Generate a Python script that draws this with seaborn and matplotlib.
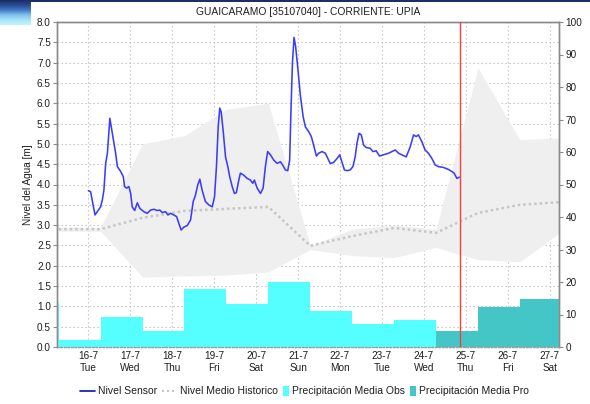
import numpy as np
import pandas as pd
import matplotlib
matplotlib.use("Agg")
import matplotlib.pyplot as plt
import seaborn as sns
from matplotlib.lines import Line2D
from matplotlib.patches import Rectangle
from matplotlib.offsetbox import AnchoredOffsetbox, HPacker, DrawingArea, TextArea

# ---------------------------------------------------------------- data
title = "GUAICARAMO [35107040] - CORRIENTE: UPIA"
t0 = pd.Timestamp("2024-07-16 00:00")

# water level from the sensor (hours after 16-7 00:00, metres)
sensor_hours = [0.0, 1.3, 3.8, 7.0, 8.0, 8.9, 9.9, 10.9, 11.8, 12.3, 13.1, 14.3, 15.6, 16.6,
                18.5, 20.0, 20.7, 21.9, 23.2, 24.2, 25.1, 26.5, 28.0, 29.5, 31.8, 33.7,
                35.6, 37.5, 39.4, 40.9, 42.3, 44.2, 45.5, 47.0, 48.9, 50.5, 51.8, 53.1,
                54.6, 56.6, 58.5, 60.0, 61.3, 62.6, 63.8, 65.1, 67.0, 68.9, 70.9, 72.2,
                73.3, 74.3, 75.2, 76.0, 77.1, 78.5, 79.8, 80.9, 82.3, 83.6, 84.7, 86.1,
                87.0, 88.9, 90.9, 92.7, 94.1, 95.0, 96.6, 98.5, 100.0, 101.3, 102.6,
                104.2, 106.1, 108.0, 109.9, 111.2, 112.7, 114.1, 115.2, 116.0, 116.8,
                117.7, 118.6, 119.9, 121.3, 122.9, 124.2, 126.1, 127.6, 128.9, 130.5,
                131.8, 133.7, 135.6, 138.4, 140.3, 142.3, 143.8, 145.1, 146.5, 148.0,
                149.9, 151.4, 152.7, 153.7, 154.9, 156.2, 157.5, 159.0, 161.3, 162.9,
                164.7, 166.6, 168.9, 171.8, 173.7, 175.6, 177.5, 179.4, 181.9, 184.2,
                186.1, 187.6, 188.9, 190.9, 192.7, 194.6, 196.6, 198.5, 200.3, 203.2,
                206.1, 208.0, 209.3, 210.9, 212.3]
sensor_level = [3.85, 3.82, 3.25, 3.45, 3.62, 3.86, 4.52, 4.77, 5.34, 5.63, 5.42, 5.10, 4.77, 4.44,
                4.32, 4.19, 3.95, 3.91, 3.95, 3.78, 3.45, 3.36, 3.55, 3.41, 3.33, 3.29,
                3.37, 3.39, 3.36, 3.37, 3.31, 3.33, 3.25, 3.29, 3.25, 3.21, 3.04, 2.88,
                2.95, 2.99, 3.13, 3.58, 3.74, 3.99, 4.13, 3.86, 3.58, 3.50, 3.45, 3.70,
                4.44, 5.42, 5.88, 5.79, 5.34, 4.68, 4.44, 4.19, 3.95, 3.78, 3.80, 4.11,
                4.28, 4.23, 4.15, 4.11, 4.03, 4.11, 3.91, 3.78, 3.91, 4.44, 4.81,
                4.73, 4.60, 4.52, 4.56, 4.48, 4.36, 4.34, 4.60, 5.90, 7.00,
                7.62, 7.40, 6.85, 6.20, 5.67, 5.42, 5.30, 5.18, 4.97, 4.70,
                4.77, 4.81, 4.77, 4.52, 4.54, 4.64, 4.73, 4.56, 4.36, 4.34,
                4.36, 4.44, 4.68, 5.01, 5.26, 5.22, 4.97, 4.91, 4.89, 4.81,
                4.83, 4.70, 4.73, 4.77, 4.81, 4.85, 4.77, 4.73, 4.68, 4.93,
                5.22, 5.18, 5.22, 5.05, 4.85, 4.77, 4.64, 4.48, 4.44, 4.42,
                4.37, 4.32, 4.28, 4.15, 4.18]

# historical statistics at the daily 07:00 reading (metres)
hist_time = ["2024-07-15 07:00", "2024-07-16 07:00", "2024-07-17 07:00", "2024-07-18 07:00",
             "2024-07-19 07:00", "2024-07-20 07:00", "2024-07-21 07:00", "2024-07-22 07:00",
             "2024-07-23 07:00", "2024-07-24 07:00", "2024-07-25 07:00", "2024-07-26 07:00",
             "2024-07-27 07:00"]
hist_mean = [2.90, 2.90, 3.18, 3.35, 3.40, 3.45, 2.49, 2.73, 2.93, 2.81, 3.30, 3.50, 3.57]
hist_max = [2.95, 2.95, 5.00, 5.20, 5.85, 6.00, 2.50, 2.90, 3.00, 2.90, 6.87, 5.10, 5.15]
hist_min = [2.85, 2.85, 1.72, 1.75, 1.77, 1.85, 2.40, 2.25, 2.20, 2.45, 2.15, 2.10, 2.85]

# daily precipitation, 07:00 to 07:00 (mm)
obs_start = ["2024-07-14 07:00", "2024-07-15 07:00", "2024-07-16 07:00", "2024-07-17 07:00",
             "2024-07-18 07:00", "2024-07-19 07:00", "2024-07-20 07:00", "2024-07-21 07:00",
             "2024-07-22 07:00", "2024-07-23 07:00"]
precip_obs = [13.8, 2.2, 9.3, 5.0, 18.0, 13.2, 20.0, 11.1, 7.2, 8.3]
pro_start = ["2024-07-24 07:00", "2024-07-25 07:00", "2024-07-26 07:00"]
precip_pro = [4.9, 12.3, 14.8]

now_time = "2024-07-24 20:40"
view_range = ("2024-07-15 06:10", "2024-07-27 05:20")

day_labels = ["16-7", "17-7", "18-7", "19-7", "20-7", "21-7", "22-7", "23-7", "24-7",
              "25-7", "26-7", "27-7"]
weekday_labels = ["Tue", "Wed", "Thu", "Fri", "Sat", "Sun", "Mon", "Tue", "Wed", "Thu",
                  "Fri", "Sat"]

legend_labels = ["Nivel Sensor", "Nivel Medio Historico",
                 "Precipitación Media Obs", "Precipitación Media Pro"]

# ---------------------------------------------------------------- styling
C_SENSOR = "#3c3cff"
C_SENSOR_KEY = "#0a0acc"
C_MEAN = "#c6c6c6"
C_BAND = "#efefef"
C_OBS = "#55ffff"
C_PRO = "#45c6c6"
C_RED = "#ff3b3b"
C_SPINE = "#8a8a8a"
C_TEXT = "#1e1e1e"
FS = 7.2


def to_days(stamps):
    return np.asarray((pd.to_datetime(stamps) - t0) / pd.Timedelta(days=1), dtype=float)


sns.set_theme(style="white")
plt.rcParams["font.family"] = ["Liberation Sans", "DejaVu Sans"]

W, H = 590, 404
fig = plt.figure(figsize=(W / 100, H / 100), dpi=100)
ax = fig.add_axes([57.2 / W, 1 - 347 / H, (559 - 57.2) / W, (347 - 22) / H])
ax2 = ax.twinx()

# historical band and mean
hx = to_days(hist_time)
ax.fill_between(hx, hist_min, hist_max, color=C_BAND, lw=0, zorder=1)
sns.lineplot(x=hx, y=hist_mean, ax=ax, color=C_MEAN, lw=1.8,
             linestyle=(0, (1.0, 1.2)), estimator=None, sort=False, zorder=2)

# sensor level
sx = np.asarray(sensor_hours) / 24.0
sns.lineplot(x=sx, y=sensor_level, ax=ax, color=C_SENSOR, lw=1.15,
             estimator=None, sort=False, zorder=3)

# precipitation bars on the secondary axis (one-day bins, 07:00 to 07:00)
obs_df = pd.DataFrame({"day": to_days(obs_start) + 0.5, "mm": precip_obs})
pro_df = pd.DataFrame({"day": to_days(pro_start) + 0.5, "mm": precip_pro})
for df, col in ((obs_df, C_OBS), (pro_df, C_PRO)):
    lo = float(df["day"].min()) - 0.5
    hi = float(df["day"].max()) + 0.5
    sns.histplot(data=df, x="day", weights="mm", binwidth=1.0, binrange=(lo, hi),
                 ax=ax2, color=col, alpha=1, linewidth=0, edgecolor="none",
                 stat="count")
ax2.axvline(to_days([now_time])[0], color=C_RED, lw=1.0, zorder=5)

# axes
x0, x1 = to_days(list(view_range))
ax.set_xlim(x0, x1)
ax2.set_xlim(x0, x1)
ax.set_ylim(0, 8)
ax2.set_ylim(0, 100)

ax.set_yticks(np.arange(0, 8.01, 0.5))
ax.set_yticklabels([f"{v:.1f}" for v in np.arange(0, 8.01, 0.5)])
ax2.set_yticks(np.arange(0, 101, 10))
ax.set_xticks(np.arange(len(day_labels)))
ax.set_xticklabels([f"{d}\n{w}" for d, w in zip(day_labels, weekday_labels)],
                   linespacing=1.25)

ax.grid(True, axis="both", color="#bdbdbd", lw=0.8, linestyle=(0, (1.2, 2.4)))
ax2.grid(False)

ax.tick_params(axis="y", direction="out", length=3, width=0.8, color=C_SPINE,
               labelsize=FS, labelcolor=C_TEXT, pad=1.5, left=True)
ax.tick_params(axis="x", length=0, labelsize=FS, labelcolor=C_TEXT, pad=3)
ax2.tick_params(axis="y", direction="out", length=3, width=0.8, color=C_SPINE,
                labelsize=FS, labelcolor=C_TEXT, pad=1.5, right=True)

for a in (ax, ax2):
    for side in ("left", "right", "top"):
        a.spines[side].set_visible(True)
        a.spines[side].set_color(C_SPINE)
        a.spines[side].set_linewidth(1.0)
    a.spines["bottom"].set_visible(True)
    a.spines["bottom"].set_color("#9a9a9a")
    a.spines["bottom"].set_linewidth(0.9)
    a.spines["bottom"].set_linestyle((0, (1.2, 1.6)))

ax.set_xlabel("")
ax2.set_xlabel("")
ax2.set_ylabel("")
ax.set_ylabel("Nivel del Agua [m]", fontsize=FS, color=C_TEXT, labelpad=3)
ax.set_title(title, fontsize=7.4, color=C_TEXT, pad=5)

# legend row
def line_key(color, ls, lw, width=10.5):
    da = DrawingArea(width, 7, 0, 0)
    da.add_artist(Line2D([0, width], [3.5, 3.5], color=color, lw=lw, linestyle=ls))
    return da


def patch_key(color, w=4.2, h=7.5):
    da = DrawingArea(w, h, 0, 0)
    da.add_artist(Rectangle((0, 0), w, h, facecolor=color, edgecolor="none"))
    return da


keys = [line_key(C_SENSOR_KEY, "-", 1.2),
        line_key("#c6c6c6", (0, (1.0, 1.4)), 1.5),
        patch_key(C_OBS), patch_key(C_PRO)]
groups = []
for k, lab in zip(keys, legend_labels):
    txt = TextArea(lab, textprops=dict(fontsize=7.5, color=C_TEXT))
    groups.append(HPacker(children=[k, txt], sep=2.2, align="center", pad=0))
row = HPacker(children=groups, sep=3.8, align="center", pad=0)
leg = AnchoredOffsetbox(loc="center left", child=row, pad=0, borderpad=0, frameon=False,
                        bbox_to_anchor=(80 / W, 1 - 391 / H), bbox_transform=fig.transFigure)
fig.add_artist(leg)

# page header strip
fig.add_artist(Rectangle((30 / W, 1 - 2.2 / H), 1 - 30 / W, 2.2 / H,
                         transform=fig.transFigure, facecolor="#1d2f62", edgecolor="none"))
hdr = fig.add_axes([0, 1 - 25 / H, 30 / W, 25 / H])
hdr.set_axis_off()
stops = np.array([[0.11, 0.18, 0.38], [0.16, 0.30, 0.58], [0.26, 0.47, 0.78],
                  [0.50, 0.76, 0.92], [0.66, 0.90, 0.98], [0.76, 0.96, 1.00]])
pos = np.linspace(0, 1, len(stops))
yy = np.linspace(0, 1, 60)
grad = np.stack([np.interp(yy, pos, stops[:, c]) for c in range(3)], axis=-1)
hdr.imshow(grad[:, None, :].repeat(4, axis=1), aspect="auto", interpolation="bilinear",
           extent=(0, 1, 1, 0))
hdr.set_xlim(0, 1)
hdr.set_ylim(1, 0)

fig.savefig("out.png", dpi=100)
